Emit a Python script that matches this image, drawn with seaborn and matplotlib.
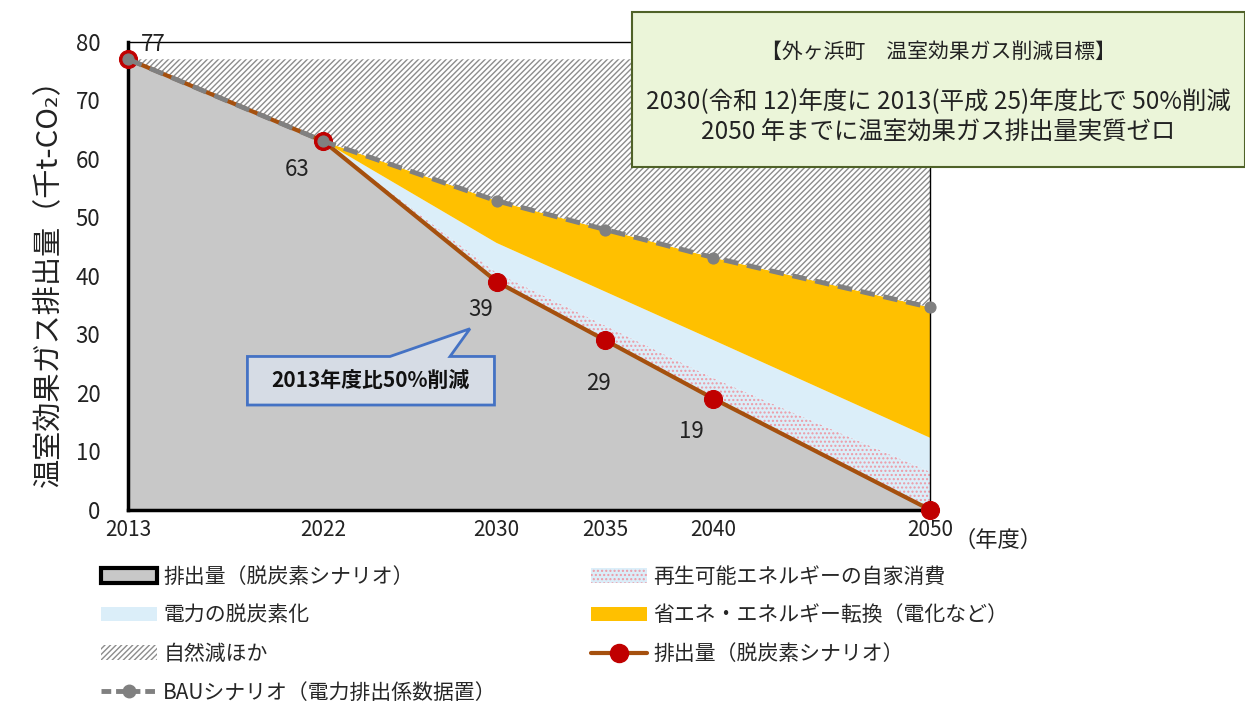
import matplotlib
matplotlib.use("Agg")
import matplotlib.pyplot as plt
from matplotlib.patches import Patch, Rectangle, Polygon
from matplotlib.lines import Line2D
import seaborn as sns

# data (千t-CO2)
years = [2013, 2022, 2030, 2035, 2040, 2050]
year_labels = ["2013", "2022", "2030", "2035", "2040", "2050"]
scenario = [77, 63, 39, 29, 19, 0]          # 排出量（脱炭素シナリオ）
renew_top = [77, 63, 40.5, 31.5, 22.5, 6.5]  # + 再生可能エネルギーの自家消費
elec_top = [77, 63, 45.6, 37.3, 29.0, 12.3]  # + 電力の脱炭素化
bau = [77, 63, 52.8, 47.9, 43.1, 34.6]       # BAUシナリオ
natural_top = [77, 77, 77, 77, 77, 77]       # + 自然減ほか
value_labels = ["77", "63", "39", "29", "19"]
label_offsets = [(25, 15), (-26, -28), (-16, -28), (-7, -43), (-22, -33)]

sns.set_theme(style="white")
plt.rcParams["font.family"] = ["Noto Sans CJK JP", "DejaVu Sans"]
plt.rcParams["hatch.linewidth"] = 1.0

GRAY = "#c8c8c8"
BLUE = "#dbeef9"
YELLOW = "#ffc000"
BROWN = "#a5500e"
RED = "#c00000"
BAUGRAY = "#808080"
DOTS = "#ec9aa6"

fig = plt.figure(figsize=(12.45, 7.07), dpi=100)
ax = fig.add_axes([0.103, 0.279, 0.747 - 0.103, 0.941 - 0.279])

# stacked areas
ax.fill_between(years, 0, scenario, facecolor=GRAY, edgecolor="none", zorder=1)
ax.fill_between(years, scenario, renew_top, facecolor=BLUE, edgecolor=DOTS,
                hatch="....", linewidth=0, zorder=1)
ax.fill_between(years, renew_top, elec_top, facecolor=BLUE, edgecolor="none", zorder=1)
ax.fill_between(years, elec_top, bau, facecolor=YELLOW, edgecolor="none", zorder=1)
ax.fill_between(years, bau, natural_top, facecolor="white", edgecolor="#8c8c8c",
                hatch="//////", linewidth=0, zorder=1)

# lines
sns.lineplot(x=years, y=scenario, color=BROWN, linewidth=3, marker="o",
             markersize=13, markerfacecolor=RED, markeredgecolor=RED, ax=ax,
             zorder=3, clip_on=False)
sns.lineplot(x=years, y=bau, color=BAUGRAY, linewidth=3.5, linestyle=(0, (3, 1.8)),
             marker="o", markersize=8, markerfacecolor=BAUGRAY,
             markeredgecolor=BAUGRAY, ax=ax, zorder=4, clip_on=False)

for txt, x, y, off in zip(value_labels, years, scenario, label_offsets):
    ax.annotate(txt, (x, y), xytext=off, textcoords="offset pixels",
                ha="center", va="center", fontsize=16, color="#222222", zorder=6)

ax.set_xlim(2013, 2050)
ax.set_ylim(0, 80)
ax.set_xticks(years)
ax.set_xticklabels(year_labels, fontsize=15)
ax.set_yticks(range(0, 81, 10))
ax.tick_params(axis="y", labelsize=16, length=0, pad=20, colors="#222222")
ax.tick_params(axis="x", length=0, pad=7, colors="#222222")
for s in ["left", "bottom"]:
    ax.spines[s].set_linewidth(2.5)
for s in ["top", "right"]:
    ax.spines[s].set_linewidth(1)
for s in ax.spines.values():
    s.set_color("black")
    s.set_zorder(2)
ax.set_ylabel("温室効果ガス排出量（千t-CO₂）", fontsize=21, labelpad=8, color="#222222")
ax.text(1.085, -0.066, "（年度）", transform=ax.transAxes, ha="center", va="center",
        fontsize=16, color="#222222")

# callout
callout = Polygon([(2018.5, 17.9), (2029.9, 17.9), (2029.9, 26.2), (2027.85, 26.2),
                   (2028.77, 30.94), (2025.08, 26.2), (2018.5, 26.2)],
                  closed=True, facecolor="#d6dce5", edgecolor="#4472c4",
                  linewidth=2, zorder=6)
ax.add_patch(callout)
ax.text(2024.16, 22.05, "2013年度比50%削減", ha="center", va="center",
        fontsize=15, fontweight="bold", color="#111111", zorder=7)

# target box
box = Rectangle((0.5076, 0.7638), 0.4924, 0.2192, transform=fig.transFigure,
                facecolor="#ebf5d9", edgecolor="#4f6228", linewidth=1.5, zorder=10)
fig.add_artist(box)
fig.text(0.7534, 0.9264, "【外ヶ浜町　温室効果ガス削減目標】", ha="center", va="center",
         fontsize=15, color="#222222", zorder=11)
fig.text(0.7534, 0.8557, "2030(令和 12)年度に 2013(平成 25)年度比で 50%削減",
         ha="center", va="center", fontsize=17.6, color="#222222", zorder=11)
fig.text(0.7534, 0.8119, "2050 年までに温室効果ガス排出量実質ゼロ",
         ha="center", va="center", fontsize=17.6, color="#222222", zorder=11)

# legend
handles = [
    Patch(facecolor=GRAY, edgecolor="black", linewidth=3),
    Patch(facecolor=BLUE, edgecolor="none"),
    Patch(facecolor="white", edgecolor="#8c8c8c", hatch="//////", linewidth=0),
    Line2D([], [], color=BAUGRAY, linewidth=3.5, linestyle=(0, (2, 1)), marker="o",
           markersize=9),
    Patch(facecolor=BLUE, edgecolor=DOTS, hatch="....", linewidth=0),
    Patch(facecolor=YELLOW, edgecolor="none"),
    Line2D([], [], color=BROWN, linewidth=3, marker="o", markersize=13,
           markerfacecolor=RED, markeredgecolor=RED),
]
labels = [
    "排出量（脱炭素シナリオ）",
    "電力の脱炭素化",
    "自然減ほか",
    "BAUシナリオ（電力排出係数据置）",
    "再生可能エネルギーの自家消費",
    "省エネ・エネルギー転換（電化など）",
    "排出量（脱炭素シナリオ）",
]
fig.legend(handles, labels, loc="upper left", bbox_to_anchor=(0.081, 0.2), ncol=2,
           frameon=False, fontsize=15, handlelength=2.7, handletextpad=0.3,
           labelspacing=0.8, columnspacing=4.5, borderaxespad=0, borderpad=0)

fig.savefig("out.png", dpi=100)
